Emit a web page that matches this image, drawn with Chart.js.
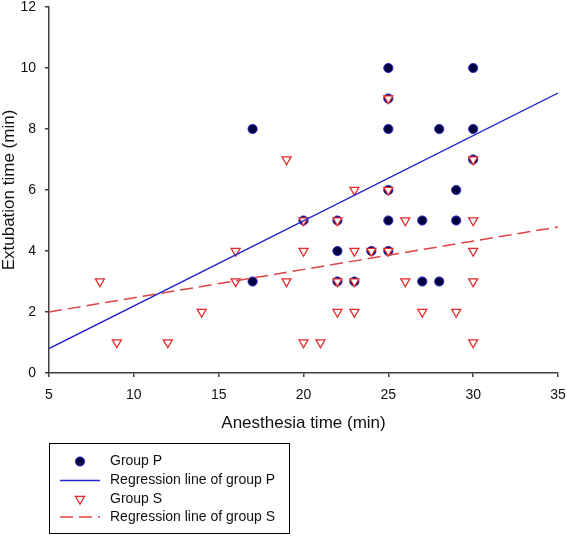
<!DOCTYPE html>
<html>
<head>
<meta charset="utf-8">
<script src="https://cdn.jsdelivr.net/npm/chart.js@4/dist/chart.umd.min.js"></script>
<style>
  html, body { margin: 0; padding: 0; background: #fff; }
  #wrap { width: 567px; height: 536px; }
</style>
</head>
<body>
<div id="wrap"><canvas id="chart"></canvas></div>
<script>
// Group P (filled circles)
const pAnesthesia = [17, 17, 25, 30, 25, 25, 28, 30, 30, 25, 29, 20, 22, 25, 27, 29, 22, 24, 25, 22, 23, 27, 28];
const pExtubation = [8, 3, 10, 10, 9, 8, 8, 8, 7, 6, 6, 5, 5, 5, 5, 5, 4, 4, 4, 3, 3, 3, 3];

// Group S (open triangles)
const sAnesthesia = [8, 9, 12, 14, 16, 16, 19, 19, 20, 20, 20, 21, 22, 22, 22, 23, 23, 23, 23, 24, 25, 25, 25, 26, 26, 27, 29, 30, 30, 30, 30, 30];
const sExtubation = [3, 1, 1, 2, 4, 3, 7, 3, 5, 4, 1, 1, 5, 3, 2, 6, 4, 3, 2, 4, 9, 6, 4, 5, 3, 2, 2, 7, 5, 4, 3, 1];

// regression line end points
const regPx = [5, 35];
const regPy = [0.8, 9.18];
const regSx = [5, 35];
const regSy = [2.0, 4.79];

const xTicks = [5, 10, 15, 20, 25, 30, 35];
const yTicks = [0, 2, 4, 6, 8, 10, 12];

const legendLabels = ["Group P", "Regression line of group P", "Group S", "Regression line of group S"];

const toPoints = (xs, ys) => xs.map((x, i) => ({ x: x, y: ys[i] }));

const axisColor = "#404040";
const fontFamily = "'Liberation Sans', Arial, sans-serif";

// draws the boxed legend under the x axis
const boxLegend = {
    id: "boxLegend",
    afterDraw(chart) {
        const ctx = chart.ctx;
        const ds = chart.data.datasets;
        const rows = [461.5, 480.5, 499, 517];
        ctx.save();
        ctx.strokeStyle = "#000";
        ctx.lineWidth = 1;
        ctx.strokeRect(49.5, 443.5, 240, 90);
        ds.forEach((d, i) => {
            const y = rows[i];
            if (d.showLine) {
                ctx.beginPath();
                ctx.setLineDash(d.borderDash || []);
                ctx.strokeStyle = d.borderColor;
                ctx.lineWidth = d.borderWidth;
                ctx.moveTo(60, y);
                ctx.lineTo(100, y);
                ctx.stroke();
                ctx.setLineDash([]);
            } else {
                ctx.fillStyle = d.backgroundColor;
                ctx.strokeStyle = d.borderColor;
                ctx.lineWidth = d.borderWidth;
                ctx.beginPath();
                if (d.pointStyle === "circle") {
                    ctx.arc(80, y, d.pointRadius, 0, Math.PI * 2);
                } else {
                    const r = d.pointRadius;
                    for (let k = 0; k < 3; k++) {
                        const a = Math.PI / 2 + k * 2 * Math.PI / 3;
                        const px = 80 + r * Math.cos(a), py = y + r * Math.sin(a);
                        if (k === 0) ctx.moveTo(px, py); else ctx.lineTo(px, py);
                    }
                    ctx.closePath();
                }
                ctx.fill();
                ctx.stroke();
            }
            ctx.fillStyle = "#111";
            ctx.font = "14px " + fontFamily;
            ctx.textBaseline = "middle";
            ctx.textAlign = "left";
            ctx.fillText(legendLabels[i], 110, y);
        });
        ctx.restore();
    }
};

new Chart(document.getElementById("chart"), {
    type: "scatter",
    data: {
        datasets: [
            {
                label: legendLabels[0],
                data: toPoints(pAnesthesia, pExtubation),
                pointStyle: "circle",
                pointRadius: 4.6,
                backgroundColor: "#00003c",
                borderColor: "#2a2ad0",
                borderWidth: 1,
                order: 2
            },
            {
                label: legendLabels[1],
                data: toPoints(regPx, regPy),
                showLine: true,
                pointRadius: 0,
                borderColor: "#2222cc",
                borderWidth: 1.3,
                order: 0
            },
            {
                label: legendLabels[2],
                data: toPoints(sAnesthesia, sExtubation),
                pointStyle: "triangle",
                rotation: 180,
                pointRadius: 5.2,
                backgroundColor: "#ffffff",
                borderColor: "#e42a2a",
                borderWidth: 1.3,
                order: 1
            },
            {
                label: legendLabels[3],
                data: toPoints(regSx, regSy),
                showLine: true,
                pointRadius: 0,
                borderColor: "#e04444",
                borderWidth: 1.5,
                borderDash: [13, 6],
                order: 0
            }
        ]
    },
    options: {
        responsive: true,
        maintainAspectRatio: false,
        animation: false,
        layout: { padding: { top: 7, right: 9, bottom: 104.5, left: 0 } },
        plugins: {
            legend: { display: false },
            tooltip: { enabled: false }
        },
        scales: {
            x: {
                type: "linear",
                min: 5,
                max: 35,
                afterFit: s => { s.height = 58.5; s.paddingLeft = 0; s.paddingRight = 0; },
                afterBuildTicks: s => { s.ticks = xTicks.map(v => ({ value: v })); },
                grid: { drawOnChartArea: false, drawTicks: true, tickLength: 4, color: axisColor, lineWidth: 1.5 },
                border: { color: axisColor, width: 1.5 },
                ticks: { color: "#111", padding: 11, font: { family: fontFamily, size: 14, lineHeight: 1 } },
                title: { display: true, text: "Anesthesia time (min)", color: "#111", padding: 0, font: { family: fontFamily, size: 17, lineHeight: 1 } }
            },
            y: {
                min: 0,
                max: 12,
                afterFit: s => { s.width = 49; s.paddingTop = 0; s.paddingBottom = 0; },
                afterBuildTicks: s => { s.ticks = yTicks.map(v => ({ value: v })); },
                grid: { drawOnChartArea: false, drawTicks: true, tickLength: 4, color: axisColor, lineWidth: 1.5 },
                border: { color: axisColor, width: 1.5 },
                ticks: { color: "#111", padding: 9, font: { family: fontFamily, size: 14, lineHeight: 1 } },
                title: { display: true, text: "Extubation time (min)", color: "#111", padding: { top: 1, bottom: 0 }, font: { family: fontFamily, size: 17, lineHeight: 1 } }
            }
        }
    },
    plugins: [boxLegend]
});
</script>
</body>
</html>
